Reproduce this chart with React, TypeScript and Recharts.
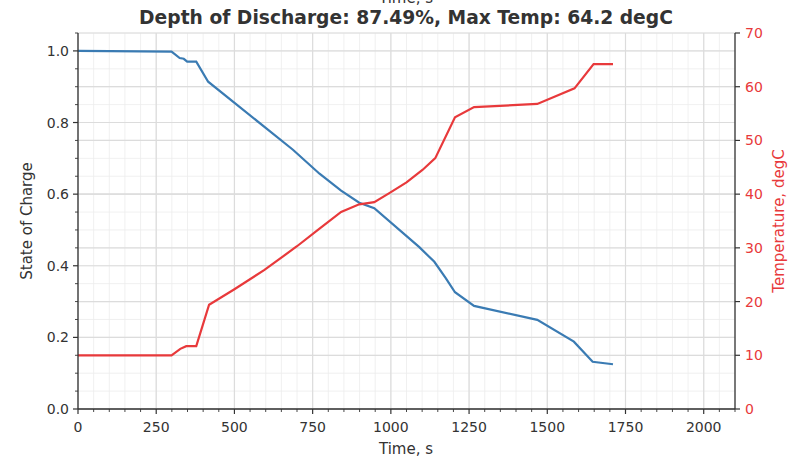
import { LineChart, Line, XAxis, YAxis, CartesianGrid } from 'recharts';

const socTime = [0, 299, 325, 338, 349, 378, 416, 687, 772, 841, 899, 947, 1091, 1139, 1176, 1205, 1266, 1468, 1585, 1645, 1710];
const socValue = [1.0, 0.998, 0.98, 0.978, 0.97, 0.97, 0.914, 0.724, 0.657, 0.61, 0.576, 0.561, 0.452, 0.411, 0.365, 0.326, 0.288, 0.249, 0.188, 0.132, 0.125];

const tempTime = [0, 299, 327, 346, 378, 419, 500, 596, 700, 772, 841, 899, 947, 995, 1050, 1101, 1142, 1205, 1266, 1468, 1587, 1648, 1710];
const tempValue = [10, 10, 11.2, 11.7, 11.7, 19.4, 22.3, 25.9, 30.3, 33.6, 36.7, 38.1, 38.5, 40.2, 42.2, 44.5, 46.7, 54.3, 56.2, 56.8, 59.7, 64.2, 64.2];

const xMajorTicks = [0, 250, 500, 750, 1000, 1250, 1500, 1750, 2000];
const socMajorTicks = [0, 0.2, 0.4, 0.6, 0.8, 1.0];
const tempTicks = [0, 10, 20, 30, 40, 50, 60, 70];

const xMinorTicks = Array.from({ length: 43 }, (_, i) => i * 50);
const socMinorTicks = Array.from({ length: 22 }, (_, i) => Math.round(i * 5) / 100);

const socData = socTime.map((t, i) => ({ t, soc: socValue[i] }));
const tempData = tempTime.map((t, i) => ({ t, temp: tempValue[i] }));

const BLUE = '#3a7bb3';
const RED = '#e8393b';
const INK = '#333333';
const FONT = '"DejaVu Sans", sans-serif';

const XTick = ({ x, y, payload }: any) => {
  const major = payload.value % 250 === 0;
  return (
    <g>
      <line x1={x} x2={x} y1={y} y2={y + (major ? 5 : 3)} stroke={INK} strokeWidth={major ? 1.2 : 0.9} />
      {major && (
        <text x={x} y={y + 23} textAnchor="middle" fontSize={14} fill={INK} fontFamily={FONT}>
          {payload.value}
        </text>
      )}
    </g>
  );
};

const LeftTick = ({ x, y, payload }: any) => {
  const major = Math.round(payload.value * 100) % 20 === 0;
  return (
    <g>
      <line x1={x - (major ? 5 : 3)} x2={x} y1={y} y2={y} stroke={INK} strokeWidth={major ? 1.2 : 0.9} />
      {major && (
        <text x={x - 9} y={y + 5} textAnchor="end" fontSize={14} fill={INK} fontFamily={FONT}>
          {payload.value.toFixed(1)}
        </text>
      )}
    </g>
  );
};

const RightTick = ({ x, y, payload }: any) => (
  <g>
    <line x1={x} x2={x + 5} y1={y} y2={y} stroke={INK} strokeWidth={1.2} />
    <text x={x + 10} y={y + 5} textAnchor="start" fontSize={14} fill={RED} fontFamily={FONT}>
      {payload.value}
    </text>
  </g>
);

export default function App() {
  return (
    <div style={{ position: 'absolute', left: 0, top: 0, width: 795, height: 460, background: '#fff' }}>
      <LineChart width={795} height={460} margin={{ top: 33, right: 0, bottom: 0, left: 0 }}>
        <CartesianGrid
          horizontalValues={socMinorTicks}
          verticalValues={xMinorTicks}
          stroke="#ececec"
          strokeWidth={0.8}
          yAxisId="left"
        />
        <CartesianGrid
          horizontalValues={socMajorTicks}
          verticalValues={xMajorTicks}
          stroke="#dcdcdc"
          strokeWidth={1.2}
          yAxisId="left"
        />
        <CartesianGrid horizontalValues={tempTicks} vertical={false} stroke="#dcdcdc" strokeWidth={1.2} yAxisId="right" />
        <XAxis
          dataKey="t"
          type="number"
          domain={[0, 2100]}
          ticks={xMinorTicks}
          interval={0}
          height={51}
          tickSize={0}
          tickMargin={0}
          tickLine={false}
          tick={<XTick />}
          axisLine={{ stroke: INK, strokeWidth: 1.3 }}
          allowDataOverflow
        />
        <XAxis
          xAxisId="top"
          orientation="top"
          dataKey="t"
          type="number"
          domain={[0, 2100]}
          height={0}
          tick={false}
          tickLine={false}
          axisLine={{ stroke: INK, strokeWidth: 1.3 }}
        />
        <YAxis
          yAxisId="left"
          type="number"
          domain={[0, 1.05]}
          ticks={socMinorTicks}
          interval={0}
          width={78}
          tickSize={0}
          tickMargin={0}
          tickLine={false}
          tick={<LeftTick />}
          axisLine={{ stroke: INK, strokeWidth: 1.3 }}
          allowDataOverflow
        />
        <YAxis
          yAxisId="right"
          orientation="right"
          type="number"
          domain={[0, 70]}
          ticks={tempTicks}
          interval={0}
          width={60}
          tickSize={0}
          tickMargin={0}
          tickLine={false}
          tick={<RightTick />}
          axisLine={{ stroke: INK, strokeWidth: 1.3 }}
          allowDataOverflow
        />
        <Line
          data={socData}
          dataKey="soc"
          yAxisId="left"
          type="linear"
          stroke={BLUE}
          strokeWidth={2.2}
          dot={false}
          isAnimationActive={false}
        />
        <Line
          data={tempData}
          dataKey="temp"
          yAxisId="right"
          type="linear"
          stroke={RED}
          strokeWidth={2.2}
          dot={false}
          isAnimationActive={false}
        />
      </LineChart>
      <svg width={795} height={460} style={{ position: 'absolute', left: 0, top: 0, pointerEvents: 'none' }}>
        <text x={406} y={3} textAnchor="middle" fontSize={15} fill={INK} fontFamily={FONT}>
          Time, s
        </text>
        <text x={406} y={24} textAnchor="middle" fontSize={18.7} fontWeight="bold" fill={INK} fontFamily={FONT}>
          Depth of Discharge: 87.49%, Max Temp: 64.2 degC
        </text>
        <text x={406} y={454} textAnchor="middle" fontSize={15} fill={INK} fontFamily={FONT}>
          Time, s
        </text>
        <text
          x={32}
          y={221}
          textAnchor="middle"
          fontSize={15}
          fill={INK}
          fontFamily={FONT}
          transform="rotate(-90 32 221)"
        >
          State of Charge
        </text>
        <text
          x={784}
          y={221}
          textAnchor="middle"
          fontSize={15}
          fill={RED}
          fontFamily={FONT}
          transform="rotate(-90 784 221)"
        >
          Temperature, degC
        </text>
      </svg>
    </div>
  );
}
